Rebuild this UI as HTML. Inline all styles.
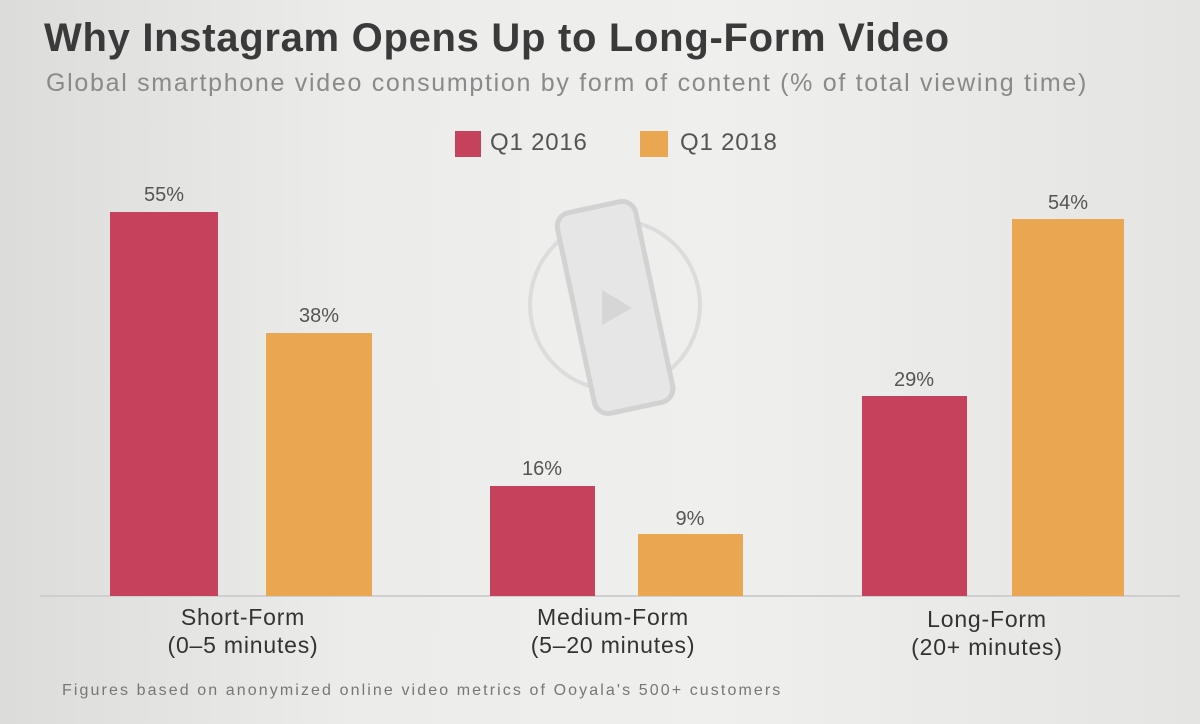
<!DOCTYPE html>
<html><head><meta charset="utf-8">
<style>
html,body{margin:0;padding:0;}
body{width:1200px;height:724px;overflow:hidden;background:linear-gradient(90deg,#dcdcda 0%,#ececea 30%,#efefed 60%,#e4e4e2 100%);font-family:"Liberation Sans",sans-serif;position:relative;}
.t{position:absolute;white-space:nowrap;}
.bar{position:absolute;}
.r{background:#c6415b;}
.o{background:#e9a752;}
.v{position:absolute;font-size:20px;color:#555;text-align:center;width:120px;}
.c{position:absolute;font-size:23px;color:#333;text-align:center;width:260px;line-height:28px;letter-spacing:0.8px;}
</style></head><body>
<div class="t" style="left:44px;top:16px;font-size:40px;font-weight:bold;color:#3a3a3a;letter-spacing:0.7px;">Why Instagram Opens Up to Long-Form Video</div>
<div class="t" style="left:46px;top:69px;font-size:25px;color:#8a8a8a;letter-spacing:1.7px;">Global smartphone video consumption by form of content (% of total viewing time)</div>
<div class="bar r" style="left:455px;top:131px;width:26px;height:26px;"></div>
<div class="t" style="left:490px;top:129px;font-size:24px;color:#555;letter-spacing:0.8px;">Q1 2016</div>
<div class="bar o" style="left:640px;top:131px;width:28px;height:26px;"></div>
<div class="t" style="left:680px;top:129px;font-size:24px;color:#555;letter-spacing:0.8px;">Q1 2018</div>
<svg style="position:absolute;left:520px;top:190px" width="200" height="240">
<circle cx="95" cy="115" r="85" fill="none" stroke="#dcdcdc" stroke-width="4"/>
<rect x="55" y="15" width="80" height="205" rx="14" transform="rotate(-12 95 117)" fill="#e6e6e6" stroke="#d2d2d2" stroke-width="5"/>
<polygon points="82,100 82,135 112,118" fill="#d6d6d6"/>
</svg>
<div style="position:absolute;left:40px;top:595px;width:1140px;height:2px;background:#cfcfcf;"></div>
<div class="bar r" style="left:110px;top:212px;width:108px;height:384px;"></div>
<div class="bar o" style="left:266px;top:333px;width:106px;height:263px;"></div>
<div class="bar r" style="left:490px;top:486px;width:105px;height:110px;"></div>
<div class="bar o" style="left:638px;top:534px;width:105px;height:62px;"></div>
<div class="bar r" style="left:862px;top:396px;width:105px;height:200px;"></div>
<div class="bar o" style="left:1012px;top:219px;width:112px;height:377px;"></div>
<div class="v" style="left:104px;top:184px;">55%</div>
<div class="v" style="left:259px;top:305px;">38%</div>
<div class="v" style="left:482px;top:458px;">16%</div>
<div class="v" style="left:630px;top:508px;">9%</div>
<div class="v" style="left:854px;top:369px;">29%</div>
<div class="v" style="left:1008px;top:192px;">54%</div>
<div class="c" style="left:113px;top:603px;">Short-Form<br>(0–5 minutes)</div>
<div class="c" style="left:483px;top:603px;">Medium-Form<br>(5–20 minutes)</div>
<div class="c" style="left:857px;top:605px;">Long-Form<br>(20+ minutes)</div>
<div class="t" style="left:62px;top:682px;font-size:16px;color:#777;letter-spacing:2.1px;">Figures based on anonymized online video metrics of Ooyala's 500+ customers</div>
</body></html>
